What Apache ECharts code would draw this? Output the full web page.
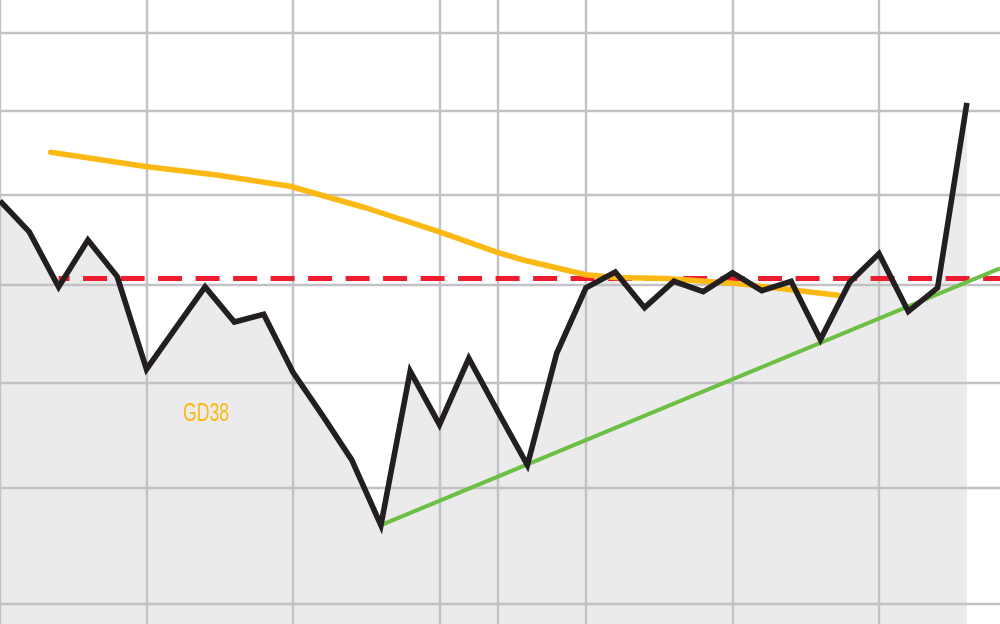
<!DOCTYPE html>
<html>
<head>
<meta charset="utf-8">
<script src="https://cdn.jsdelivr.net/npm/echarts@6/dist/echarts.min.js"></script>
<style>
html,body{margin:0;padding:0;background:#ffffff;}
#chart{width:1000px;height:624px;}
</style>
</head>
<body>
<div id="chart"></div>
<script>
// Price series (one value per period, index 0..33)
const price = [13.93,13.58,12.98,13.49,13.09,12.13,12.55,12.98,12.61,12.69,
               12.10,11.68,11.26,10.67,12.11,11.59,12.24,11.71,11.21,12.29,
               12.97,13.14,12.76,13.04,12.93,13.13,12.94,13.04,12.43,13.03,
               13.34,12.72,12.97,15.10];
// GD38 moving average (position along the period axis, value)
const gd38X = [1.73,4.97,7.4,9.9,12.5,15,17,17.86,20,21,22.75,25,27,28.6];
const gd38  = [14.50,14.33,14.23,14.10,13.85,13.58,13.35,13.27,13.11,13.08,13.07,13.02,12.95,12.89];
// Resistance level (dashed) and trend line
const resistanceStart = 2;
const resistanceLevel = 13.07;
const trendX = [13, 34.13];
const trendY = [10.67, 13.18];
// Axis range and grid positions
const xMax = 34.13;
const yMin = 9.837, yMax = 16.434;
const vGrid = [0,5,10,15,17,20,25,30];
const hGrid = [10,11,12,13,14,15,16];

const pricePts = price.map((v,i)=>[i,v]);
const gdPts = gd38X.map((x,i)=>[x,gd38[i]]);

const chart = echarts.init(document.getElementById('chart'), null, {renderer:'canvas'});
chart.setOption({
  animation:false,
  backgroundColor:'#ffffff',
  grid:{left:0,right:0,top:0,bottom:0,containLabel:false},
  xAxis:{type:'value',min:0,max:xMax,show:false},
  yAxis:{type:'log',min:yMin,max:yMax,show:false},
  series:[
    {name:'fill',type:'line',data:pricePts,z:1,symbol:'none',silent:true,
     lineStyle:{width:0,opacity:0},areaStyle:{color:'#ebebeb',opacity:1,origin:'start'}},
    {name:'grid',type:'line',data:[],z:1,symbol:'none',silent:true,
     markLine:{z:1.5,silent:true,symbol:['none','none'],label:{show:false},animation:false,
       lineStyle:{color:'#c2c2c6',width:2.4,type:'solid'},
       emphasis:{disabled:true},
       data:[...vGrid.map(x=>({xAxis:x})),...hGrid.map(y=>({yAxis:y}))]}},
    {name:'resistance',type:'line',z:3,symbol:'none',silent:true,
     data:[[resistanceStart,resistanceLevel],[xMax,resistanceLevel]],
     lineStyle:{color:'#ed1c2e',width:5,type:[24,13.5],dashOffset:13,cap:'butt'}},
    {name:'GD38',type:'line',z:4,symbol:'none',silent:true,data:gdPts,
     lineStyle:{color:'#fdb913',width:5.5,cap:'round',join:'round'}},
    {name:'trend',type:'line',z:5,symbol:'none',silent:true,
     data:trendX.map((x,i)=>[x,trendY[i]]),
     lineStyle:{color:'#6cbf45',width:4,cap:'butt'}},
    {name:'price',type:'line',z:6,symbol:'none',silent:true,data:pricePts,
     lineStyle:{color:'#231f20',width:5.6,join:'miter',miterLimit:10,cap:'butt'}}
  ],
  graphic:[
    {type:'text',left:183,top:401,z:100,silent:true,scaleX:0.68,
     style:{text:'GD38',fill:'#fdb913',
       font:"26px 'Liberation Sans', Arial, sans-serif"}}
  ]
});
</script>
</body>
</html>
